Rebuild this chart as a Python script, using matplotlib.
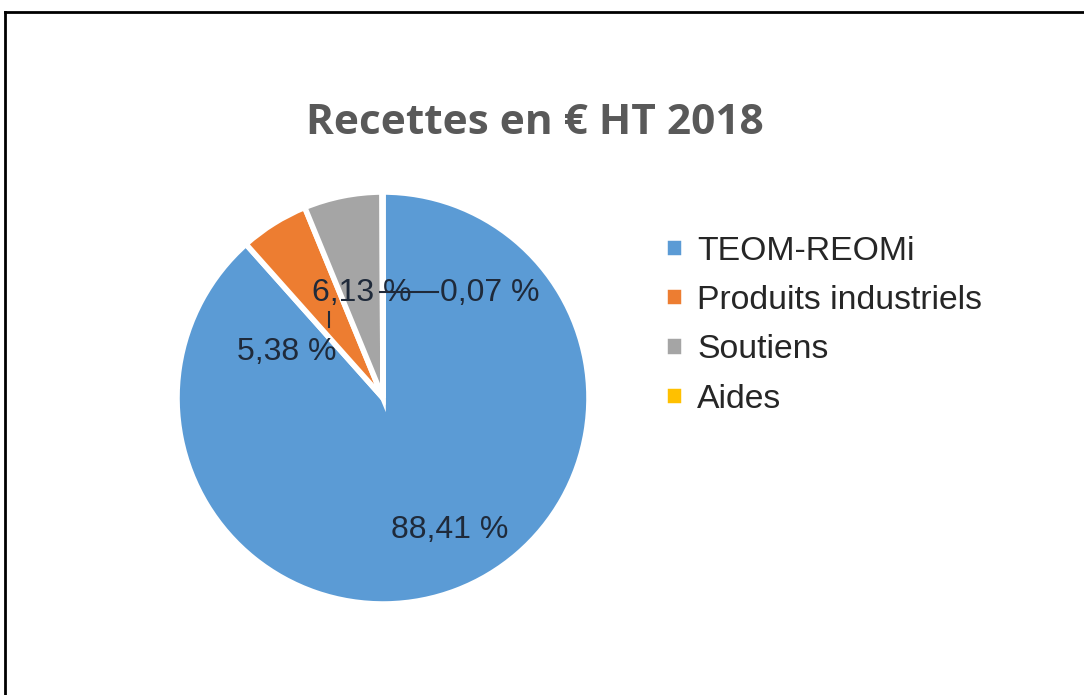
import matplotlib
matplotlib.use("Agg")
import matplotlib.pyplot as plt

categories = ["TEOM-REOMi", "Produits industriels", "Soutiens", "Aides"]
values = [88.41, 5.38, 6.13, 0.07]
labels = ["88,41 %", "5,38 %", "6,13 %", "0,07 %"]
colors = ["#5B9BD5", "#ED7D31", "#A5A5A5", "#FFC000"]
title = "Recettes en € HT 2018"

W, H = 1084, 695
fig = plt.figure(figsize=(W / 100, H / 100), dpi=100)
ax = fig.add_axes([0, 0, 1, 1])
ax.set_xlim(0, W)
ax.set_ylim(0, H)
ax.set_aspect("equal")
ax.axis("off")

cx, cy, r = 383, H - 398, 206
wedges, _ = ax.pie(values, colors=colors, startangle=90, counterclock=False,
                   center=(cx, cy), radius=r, frame=True,
                   wedgeprops=dict(edgecolor="white", linewidth=4))
ax.set_xlim(0, W)
ax.set_ylim(0, H)
ax.axis("off")

lab_font = dict(family="Liberation Sans", fontsize=23, color="#1f2a3a")
pos = [(450, 530), (287, 352), (362, 293), (490, 293)]
for (x, y), t in zip(pos, labels):
    ax.text(x, H - y, t, ha="center", va="center", **lab_font)
# leader lines
ax.plot([380, 438], [H - 292, H - 292], color="#1f2a3a", lw=1.5)
ax.plot([329, 329], [H - 312, H - 327], color="#1f2a3a", lw=1.5)

fig.text(535 / W, 1 - 123 / H, title, ha="center", va="center",
         family="Open Sans", fontweight="bold", fontsize=30.5, color="#595959")

leg = ax.legend(wedges, categories, loc="upper left",
                bbox_to_anchor=(665 / W, 1 - 236 / H), bbox_transform=fig.transFigure,
                frameon=False, prop=dict(family="Liberation Sans", size=24.3),
                handlelength=0.55, handleheight=0.55, handletextpad=0.4,
                labelspacing=0.54, borderpad=0, borderaxespad=0)
for t in leg.get_texts():
    t.set_color("#262626")

# outer border (left and top)
fig.add_artist(plt.Line2D([5 / W, 5 / W], [0, 1 - 12 / H], color="black", lw=2,
                          transform=fig.transFigure))
fig.add_artist(plt.Line2D([5 / W, 1], [1 - 12 / H, 1 - 12 / H], color="black", lw=2,
                          transform=fig.transFigure))

fig.savefig("out.png", dpi=100)
